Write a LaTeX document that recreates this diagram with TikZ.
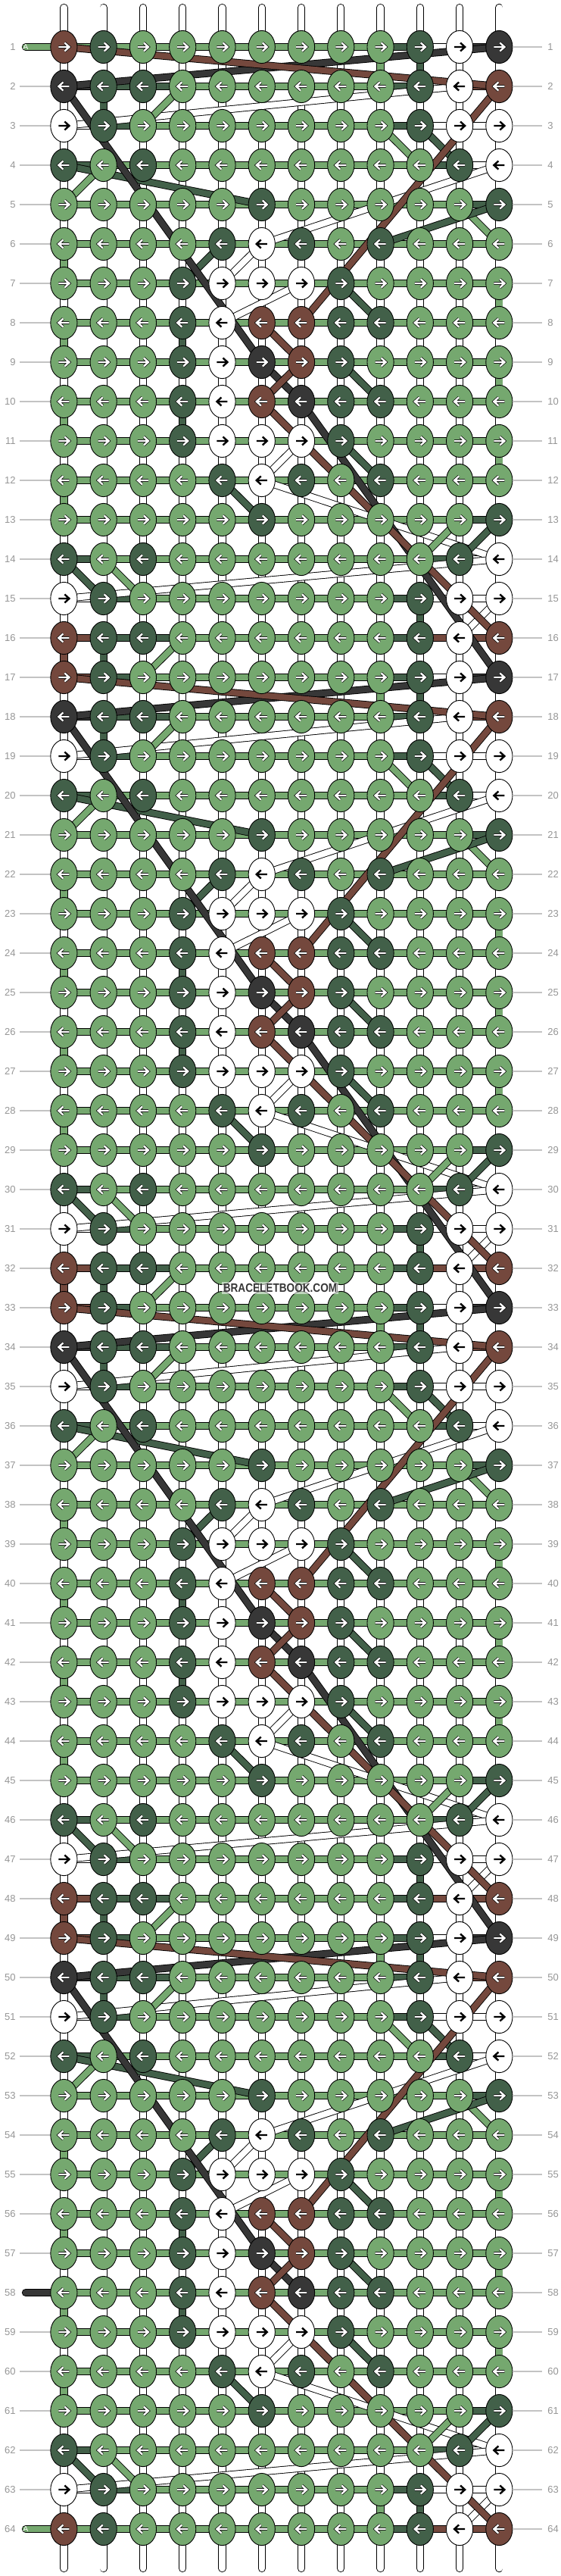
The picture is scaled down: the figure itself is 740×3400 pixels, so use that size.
\documentclass[tikz,border=0pt]{standalone}
\usepackage{fontspec}
\setmainfont{Liberation Sans}
\usepackage{tikz}
\usetikzlibrary{positioning, shapes.geometric}

\definecolor{kL}{RGB}{117,168,111}
\definecolor{kD}{RGB}{66,96,73}
\definecolor{kW}{RGB}{255,255,255}
\definecolor{kK}{RGB}{55,55,55}
\definecolor{kB}{RGB}{116,72,61}
\definecolor{guide}{RGB}{195,195,195}
\definecolor{numgray}{RGB}{150,150,150}

\tikzset{
  knot/.style={ellipse, draw=black, line width=0.45pt, inner sep=0pt,
    minimum width=17.6pt, minimum height=21.6pt},
  thread/.style={line width=0.45pt, double=white, double distance=4.2pt},
  hbar/.style={line width=0.45pt, double=#1, double distance=4.3pt},
  vbar/.style={line width=0.45pt, double=#1, double distance=4.2pt},
  cord/.style={line width=0.45pt, double=#1, double distance=4pt},
  arrow/.style={line width=1.2pt},
  arr-W/.style={black},
  arr-L/.style={white, preaction={draw=black, line width=1.9pt}},
  arr-D/.style={white, preaction={draw=black, line width=1.9pt}},
  arr-K/.style={white, preaction={draw=black, line width=1.9pt}},
  arr-B/.style={white, preaction={draw=black, line width=1.9pt}},
  rownum/.style={text=numgray, font=\fontsize{6.5}{7}\selectfont, inner sep=0pt},
  guideline/.style={draw=guide, line width=0.6pt}
}

\begin{document}
\begin{tikzpicture}[x=0.5pt, y=-0.5pt]
\fill[white] (0,0) rectangle (740,3400);
\useasboundingbox (0,0) rectangle (740,3400);

% grid points
\foreach \r in {1,...,64}{
  \foreach \c in {1,...,12}{
    \coordinate (p-\r-\c) at ({84.4+52.27*(\c-1)},{62+52*(\r-1)});
  }
}

% vertical threads
\foreach \c in {1,...,12}{
  \coordinate (top-\c) at ({84.4+52.27*(\c-1)},10);
  \coordinate (bot-\c) at ({84.4+52.27*(\c-1)},3390);
  \draw[thread, line cap=round] (top-\c) -- (bot-\c);
}

% coloured threads going straight down
\foreach \o in {0,16,32,48}{
  \foreach \a/\c/\col in {1/9/L,1/10/D,2/2/D,6/1/L,7/12/L,8/1/L,8/4/D,9/12/L,
                          10/1/L,10/4/D,11/12/L,12/1/L,15/10/D,16/1/B,16/2/D}{
    \pgfmathtruncatemacro\ra{\a+\o}
    \pgfmathtruncatemacro\rb{\a+\o+1}
    \ifnum\rb<65 \draw[vbar=k\col] (p-\ra-\c) -- (p-\rb-\c); \fi
  }
}
\draw[vbar=kL] (p-63-9) -- (p-64-9);

% start strings
\coordinate (sa) at (34,62);
\coordinate (sb) at (34,3338);
\coordinate (sc) at (34,3026);
\draw[hbar=kL, line cap=round] (sa) -- (p-1-1);
\draw[hbar=kL, line cap=round] (sb) -- (p-64-1);
\draw[hbar=kK, line cap=round] (sc) -- (p-58-1);

% rows: knots / bars
\foreach \r/\ks/\bs in {
1/{B,D,L,L,L,L,L,L,L,D,W,K}/{L,L,L,L,L,L,L,L,D,W,K},
2/{K,D,D,L,L,L,L,L,L,D,W,B}/{K,D,D,L,L,L,L,L,D,W,B},
3/{W,D,L,L,L,L,L,L,L,D,W,W}/{W,D,L,L,L,L,L,L,D,W,W},
4/{D,L,D,L,L,L,L,L,L,L,D,W}/{D,L,L,L,L,L,L,L,L,D,W},
5/{L,L,L,L,L,D,L,L,L,L,L,D}/{L,L,L,L,L,L,L,L,L,L,D},
6/{L,L,L,L,D,W,D,L,D,L,L,L}/{L,L,L,L,L,L,L,L,L,L,L},
7/{L,L,L,D,W,W,W,D,L,L,L,L}/{L,L,L,L,L,L,L,L,L,L,L},
8/{L,L,L,D,W,B,B,D,D,L,L,L}/{L,L,L,L,L,L,L,L,L,L,L},
9/{L,L,L,D,W,K,B,D,L,L,L,L}/{L,L,L,L,L,L,L,L,L,L,L},
10/{L,L,L,D,W,B,K,D,D,L,L,L}/{L,L,L,L,L,L,L,L,L,L,L},
11/{L,L,L,D,W,W,W,D,L,L,L,L}/{L,L,L,L,L,L,L,L,L,L,L},
12/{L,L,L,L,D,W,D,L,D,L,L,L}/{L,L,L,L,L,L,L,L,L,L,L},
13/{L,L,L,L,L,D,L,L,L,L,L,D}/{L,L,L,L,L,L,L,L,L,L,D},
14/{D,L,D,L,L,L,L,L,L,L,D,W}/{D,L,L,L,L,L,L,L,L,D,W},
15/{W,D,L,L,L,L,L,L,L,D,W,W}/{W,D,L,L,L,L,L,L,D,W,W},
16/{B,D,D,L,L,L,L,L,L,D,W,B}/{B,D,D,L,L,L,L,L,D,B,B},
17/{B,D,L,L,L,L,L,L,L,D,W,K}/{B,D,L,L,L,L,L,L,D,W,K},
18/{K,D,D,L,L,L,L,L,L,D,W,B}/{K,D,D,L,L,L,L,L,D,W,B},
19/{W,D,L,L,L,L,L,L,L,D,W,W}/{W,D,L,L,L,L,L,L,D,W,W},
20/{D,L,D,L,L,L,L,L,L,L,D,W}/{D,L,L,L,L,L,L,L,L,D,W},
21/{L,L,L,L,L,D,L,L,L,L,L,D}/{L,L,L,L,L,L,L,L,L,L,D},
22/{L,L,L,L,D,W,D,L,D,L,L,L}/{L,L,L,L,L,L,L,L,L,L,L},
23/{L,L,L,D,W,W,W,D,L,L,L,L}/{L,L,L,L,L,L,L,L,L,L,L},
24/{L,L,L,D,W,B,B,D,D,L,L,L}/{L,L,L,L,L,L,L,L,L,L,L},
25/{L,L,L,D,W,K,B,D,L,L,L,L}/{L,L,L,L,L,L,L,L,L,L,L},
26/{L,L,L,D,W,B,K,D,D,L,L,L}/{L,L,L,L,L,L,L,L,L,L,L},
27/{L,L,L,D,W,W,W,D,L,L,L,L}/{L,L,L,L,L,L,L,L,L,L,L},
28/{L,L,L,L,D,W,D,L,D,L,L,L}/{L,L,L,L,L,L,L,L,L,L,L},
29/{L,L,L,L,L,D,L,L,L,L,L,D}/{L,L,L,L,L,L,L,L,L,L,D},
30/{D,L,D,L,L,L,L,L,L,L,D,W}/{D,L,L,L,L,L,L,L,L,D,W},
31/{W,D,L,L,L,L,L,L,L,D,W,W}/{W,D,L,L,L,L,L,L,D,W,W},
32/{B,D,D,L,L,L,L,L,L,D,W,B}/{B,D,D,L,L,L,L,L,D,B,B},
33/{B,D,L,L,L,L,L,L,L,D,W,K}/{B,D,L,L,L,L,L,L,D,W,K},
34/{K,D,D,L,L,L,L,L,L,D,W,B}/{K,D,D,L,L,L,L,L,D,W,B},
35/{W,D,L,L,L,L,L,L,L,D,W,W}/{W,D,L,L,L,L,L,L,D,W,W},
36/{D,L,D,L,L,L,L,L,L,L,D,W}/{D,L,L,L,L,L,L,L,L,D,W},
37/{L,L,L,L,L,D,L,L,L,L,L,D}/{L,L,L,L,L,L,L,L,L,L,D},
38/{L,L,L,L,D,W,D,L,D,L,L,L}/{L,L,L,L,L,L,L,L,L,L,L},
39/{L,L,L,D,W,W,W,D,L,L,L,L}/{L,L,L,L,L,L,L,L,L,L,L},
40/{L,L,L,D,W,B,B,D,D,L,L,L}/{L,L,L,L,L,L,L,L,L,L,L},
41/{L,L,L,D,W,K,B,D,L,L,L,L}/{L,L,L,L,L,L,L,L,L,L,L},
42/{L,L,L,D,W,B,K,D,D,L,L,L}/{L,L,L,L,L,L,L,L,L,L,L},
43/{L,L,L,D,W,W,W,D,L,L,L,L}/{L,L,L,L,L,L,L,L,L,L,L},
44/{L,L,L,L,D,W,D,L,D,L,L,L}/{L,L,L,L,L,L,L,L,L,L,L},
45/{L,L,L,L,L,D,L,L,L,L,L,D}/{L,L,L,L,L,L,L,L,L,L,D},
46/{D,L,D,L,L,L,L,L,L,L,D,W}/{D,L,L,L,L,L,L,L,L,D,W},
47/{W,D,L,L,L,L,L,L,L,D,W,W}/{W,D,L,L,L,L,L,L,D,W,W},
48/{B,D,D,L,L,L,L,L,L,D,W,B}/{B,D,D,L,L,L,L,L,D,B,B},
49/{B,D,L,L,L,L,L,L,L,D,W,K}/{B,D,L,L,L,L,L,L,D,W,K},
50/{K,D,D,L,L,L,L,L,L,D,W,B}/{K,D,D,L,L,L,L,L,D,W,B},
51/{W,D,L,L,L,L,L,L,L,D,W,W}/{W,D,L,L,L,L,L,L,D,W,W},
52/{D,L,D,L,L,L,L,L,L,L,D,W}/{D,L,L,L,L,L,L,L,L,D,W},
53/{L,L,L,L,L,D,L,L,L,L,L,D}/{L,L,L,L,L,L,L,L,L,L,D},
54/{L,L,L,L,D,W,D,L,D,L,L,L}/{L,L,L,L,L,L,L,L,L,L,L},
55/{L,L,L,D,W,W,W,D,L,L,L,L}/{L,L,L,L,L,L,L,L,L,L,L},
56/{L,L,L,D,W,B,B,D,D,L,L,L}/{L,L,L,L,L,L,L,L,L,L,L},
57/{L,L,L,D,W,K,B,D,L,L,L,L}/{L,L,L,L,L,L,L,L,L,L,L},
58/{L,L,L,D,W,B,K,D,D,L,L,L}/{L,L,L,L,L,L,L,L,L,L,L},
59/{L,L,L,D,W,W,W,D,L,L,L,L}/{L,L,L,L,L,L,L,L,L,L,L},
60/{L,L,L,L,D,W,D,L,D,L,L,L}/{L,L,L,L,L,L,L,L,L,L,L},
61/{L,L,L,L,L,D,L,L,L,L,L,D}/{L,L,L,L,L,L,L,L,L,L,D},
62/{D,L,L,L,L,L,L,L,L,L,D,W}/{D,L,L,L,L,L,L,L,L,D,W},
63/{W,D,L,L,L,L,L,L,L,D,W,W}/{W,D,L,L,L,L,L,L,D,W,W},
64/{B,D,L,L,L,L,L,L,L,D,W,B}/{L,L,L,L,L,L,L,L,D,B,B}}{
  \foreach \b [count=\c] in \bs{
    \pgfmathtruncatemacro\cn{\c+1}
    \draw[hbar=k\b] (p-\r-\c) -- (p-\r-\cn);
  }
}

% strings moving across (one repeat of 16 rows)
\foreach \o in {0,16,32,48}{
  \foreach \ca/\ra/\cb/\rb in {11/2/1/3, 12/4/6/6, 6/6/5/7, 7/7/5/8, 7/11/6/12, 6/12/12/14,
                               12/14/1/15, 12/15/11/16}{
    \pgfmathtruncatemacro\rx{\ra+\o}
    \pgfmathtruncatemacro\ry{\rb+\o}
    \ifnum\ry<65 \draw[cord=kW] (p-\rx-\ca) -- (p-\ry-\cb); \fi
  }
  \foreach \ca/\ra/\cb/\rb/\col in {
      4/2/3/3/L, 2/4/1/5/L, 9/3/10/4/L, 11/5/12/6/L, 2/14/3/15/L, 11/13/10/14/L, 4/16/3/17/L,
      1/4/6/5/D, 10/3/11/4/D, 12/5/9/6/D, 5/6/4/7/D, 8/7/9/8/D, 8/9/9/10/D, 8/11/9/12/D,
      5/12/6/13/D, 1/14/2/15/D, 12/13/11/14/D,
      12/1/1/2/K, 1/2/6/9/K, 6/9/7/10/K, 7/10/12/17/K,
      1/1/12/2/B, 12/2/7/8/B, 6/8/7/9/B, 7/9/6/10/B, 6/10/12/16/B}{
    \pgfmathtruncatemacro\rx{\ra+\o}
    \pgfmathtruncatemacro\ry{\rb+\o}
    \ifnum\ry<65 \draw[cord=k\col] (p-\rx-\ca) -- (p-\ry-\cb); \fi
  }
}

% knots
\foreach \r/\ks in {
1/{B,D,L,L,L,L,L,L,L,D,W,K}, 2/{K,D,D,L,L,L,L,L,L,D,W,B},
3/{W,D,L,L,L,L,L,L,L,D,W,W}, 4/{D,L,D,L,L,L,L,L,L,L,D,W},
5/{L,L,L,L,L,D,L,L,L,L,L,D}, 6/{L,L,L,L,D,W,D,L,D,L,L,L},
7/{L,L,L,D,W,W,W,D,L,L,L,L}, 8/{L,L,L,D,W,B,B,D,D,L,L,L},
9/{L,L,L,D,W,K,B,D,L,L,L,L}, 10/{L,L,L,D,W,B,K,D,D,L,L,L},
11/{L,L,L,D,W,W,W,D,L,L,L,L}, 12/{L,L,L,L,D,W,D,L,D,L,L,L},
13/{L,L,L,L,L,D,L,L,L,L,L,D}, 14/{D,L,D,L,L,L,L,L,L,L,D,W},
15/{W,D,L,L,L,L,L,L,L,D,W,W}, 16/{B,D,D,L,L,L,L,L,L,D,W,B},
17/{B,D,L,L,L,L,L,L,L,D,W,K}, 18/{K,D,D,L,L,L,L,L,L,D,W,B},
19/{W,D,L,L,L,L,L,L,L,D,W,W}, 20/{D,L,D,L,L,L,L,L,L,L,D,W},
21/{L,L,L,L,L,D,L,L,L,L,L,D}, 22/{L,L,L,L,D,W,D,L,D,L,L,L},
23/{L,L,L,D,W,W,W,D,L,L,L,L}, 24/{L,L,L,D,W,B,B,D,D,L,L,L},
25/{L,L,L,D,W,K,B,D,L,L,L,L}, 26/{L,L,L,D,W,B,K,D,D,L,L,L},
27/{L,L,L,D,W,W,W,D,L,L,L,L}, 28/{L,L,L,L,D,W,D,L,D,L,L,L},
29/{L,L,L,L,L,D,L,L,L,L,L,D}, 30/{D,L,D,L,L,L,L,L,L,L,D,W},
31/{W,D,L,L,L,L,L,L,L,D,W,W}, 32/{B,D,D,L,L,L,L,L,L,D,W,B},
33/{B,D,L,L,L,L,L,L,L,D,W,K}, 34/{K,D,D,L,L,L,L,L,L,D,W,B},
35/{W,D,L,L,L,L,L,L,L,D,W,W}, 36/{D,L,D,L,L,L,L,L,L,L,D,W},
37/{L,L,L,L,L,D,L,L,L,L,L,D}, 38/{L,L,L,L,D,W,D,L,D,L,L,L},
39/{L,L,L,D,W,W,W,D,L,L,L,L}, 40/{L,L,L,D,W,B,B,D,D,L,L,L},
41/{L,L,L,D,W,K,B,D,L,L,L,L}, 42/{L,L,L,D,W,B,K,D,D,L,L,L},
43/{L,L,L,D,W,W,W,D,L,L,L,L}, 44/{L,L,L,L,D,W,D,L,D,L,L,L},
45/{L,L,L,L,L,D,L,L,L,L,L,D}, 46/{D,L,D,L,L,L,L,L,L,L,D,W},
47/{W,D,L,L,L,L,L,L,L,D,W,W}, 48/{B,D,D,L,L,L,L,L,L,D,W,B},
49/{B,D,L,L,L,L,L,L,L,D,W,K}, 50/{K,D,D,L,L,L,L,L,L,D,W,B},
51/{W,D,L,L,L,L,L,L,L,D,W,W}, 52/{D,L,D,L,L,L,L,L,L,L,D,W},
53/{L,L,L,L,L,D,L,L,L,L,L,D}, 54/{L,L,L,L,D,W,D,L,D,L,L,L},
55/{L,L,L,D,W,W,W,D,L,L,L,L}, 56/{L,L,L,D,W,B,B,D,D,L,L,L},
57/{L,L,L,D,W,K,B,D,L,L,L,L}, 58/{L,L,L,D,W,B,K,D,D,L,L,L},
59/{L,L,L,D,W,W,W,D,L,L,L,L}, 60/{L,L,L,L,D,W,D,L,D,L,L,L},
61/{L,L,L,L,L,D,L,L,L,L,L,D}, 62/{D,L,L,L,L,L,L,L,L,L,D,W},
63/{W,D,L,L,L,L,L,L,L,D,W,W}, 64/{B,D,L,L,L,L,L,L,L,D,W,B}}{
  \foreach \k [count=\c] in \ks{
    \node[knot, fill=k\k] (k-\r-\c) at (p-\r-\c) {};
    \ifodd\r
      \draw[arrow, arr-\k] (k-\r-\c) +(-7,0) -- +(7,0) +(1,-5.5) -- +(7,0) -- +(1,5.5);
    \else
      \draw[arrow, arr-\k] (k-\r-\c) +(7,0) -- +(-7,0) +(-1,-5.5) -- +(-7,0) -- +(-1,5.5);
    \fi
  }
}

\node[text=white, font=\fontsize{5}{5}\selectfont, inner sep=0pt] (la) at (sa) {A};
\node[text=white, font=\fontsize{5}{5}\selectfont, inner sep=0pt] (lb) at (sb) {A};

% watermark
\node[fill=white, fill opacity=0.55, text opacity=1, text=kK, inner sep=1pt,
      font=\fontsize{8}{8}\selectfont\bfseries, xscale=0.85] (mark) at (370,1700) {BRACELETBOOK.COM};

% row numbers
\foreach \r in {1,...,64}{
  \node[rownum, anchor=east] (nl-\r) at (21,{62+52*(\r-1)}) {\r};
  \node[rownum, anchor=west] (nr-\r) at (723,{62+52*(\r-1)}) {\r};
}
\foreach \r in {2,...,57,59,60,61,62,63}{
  \draw[guideline] ([xshift=2.5pt]nl-\r.east) -- (k-\r-1.west);
}
\foreach \r in {1,...,64}{
  \draw[guideline] (k-\r-12.east) -- ([xshift=-3.5pt]nr-\r.west);
}
\end{tikzpicture}
\end{document}
